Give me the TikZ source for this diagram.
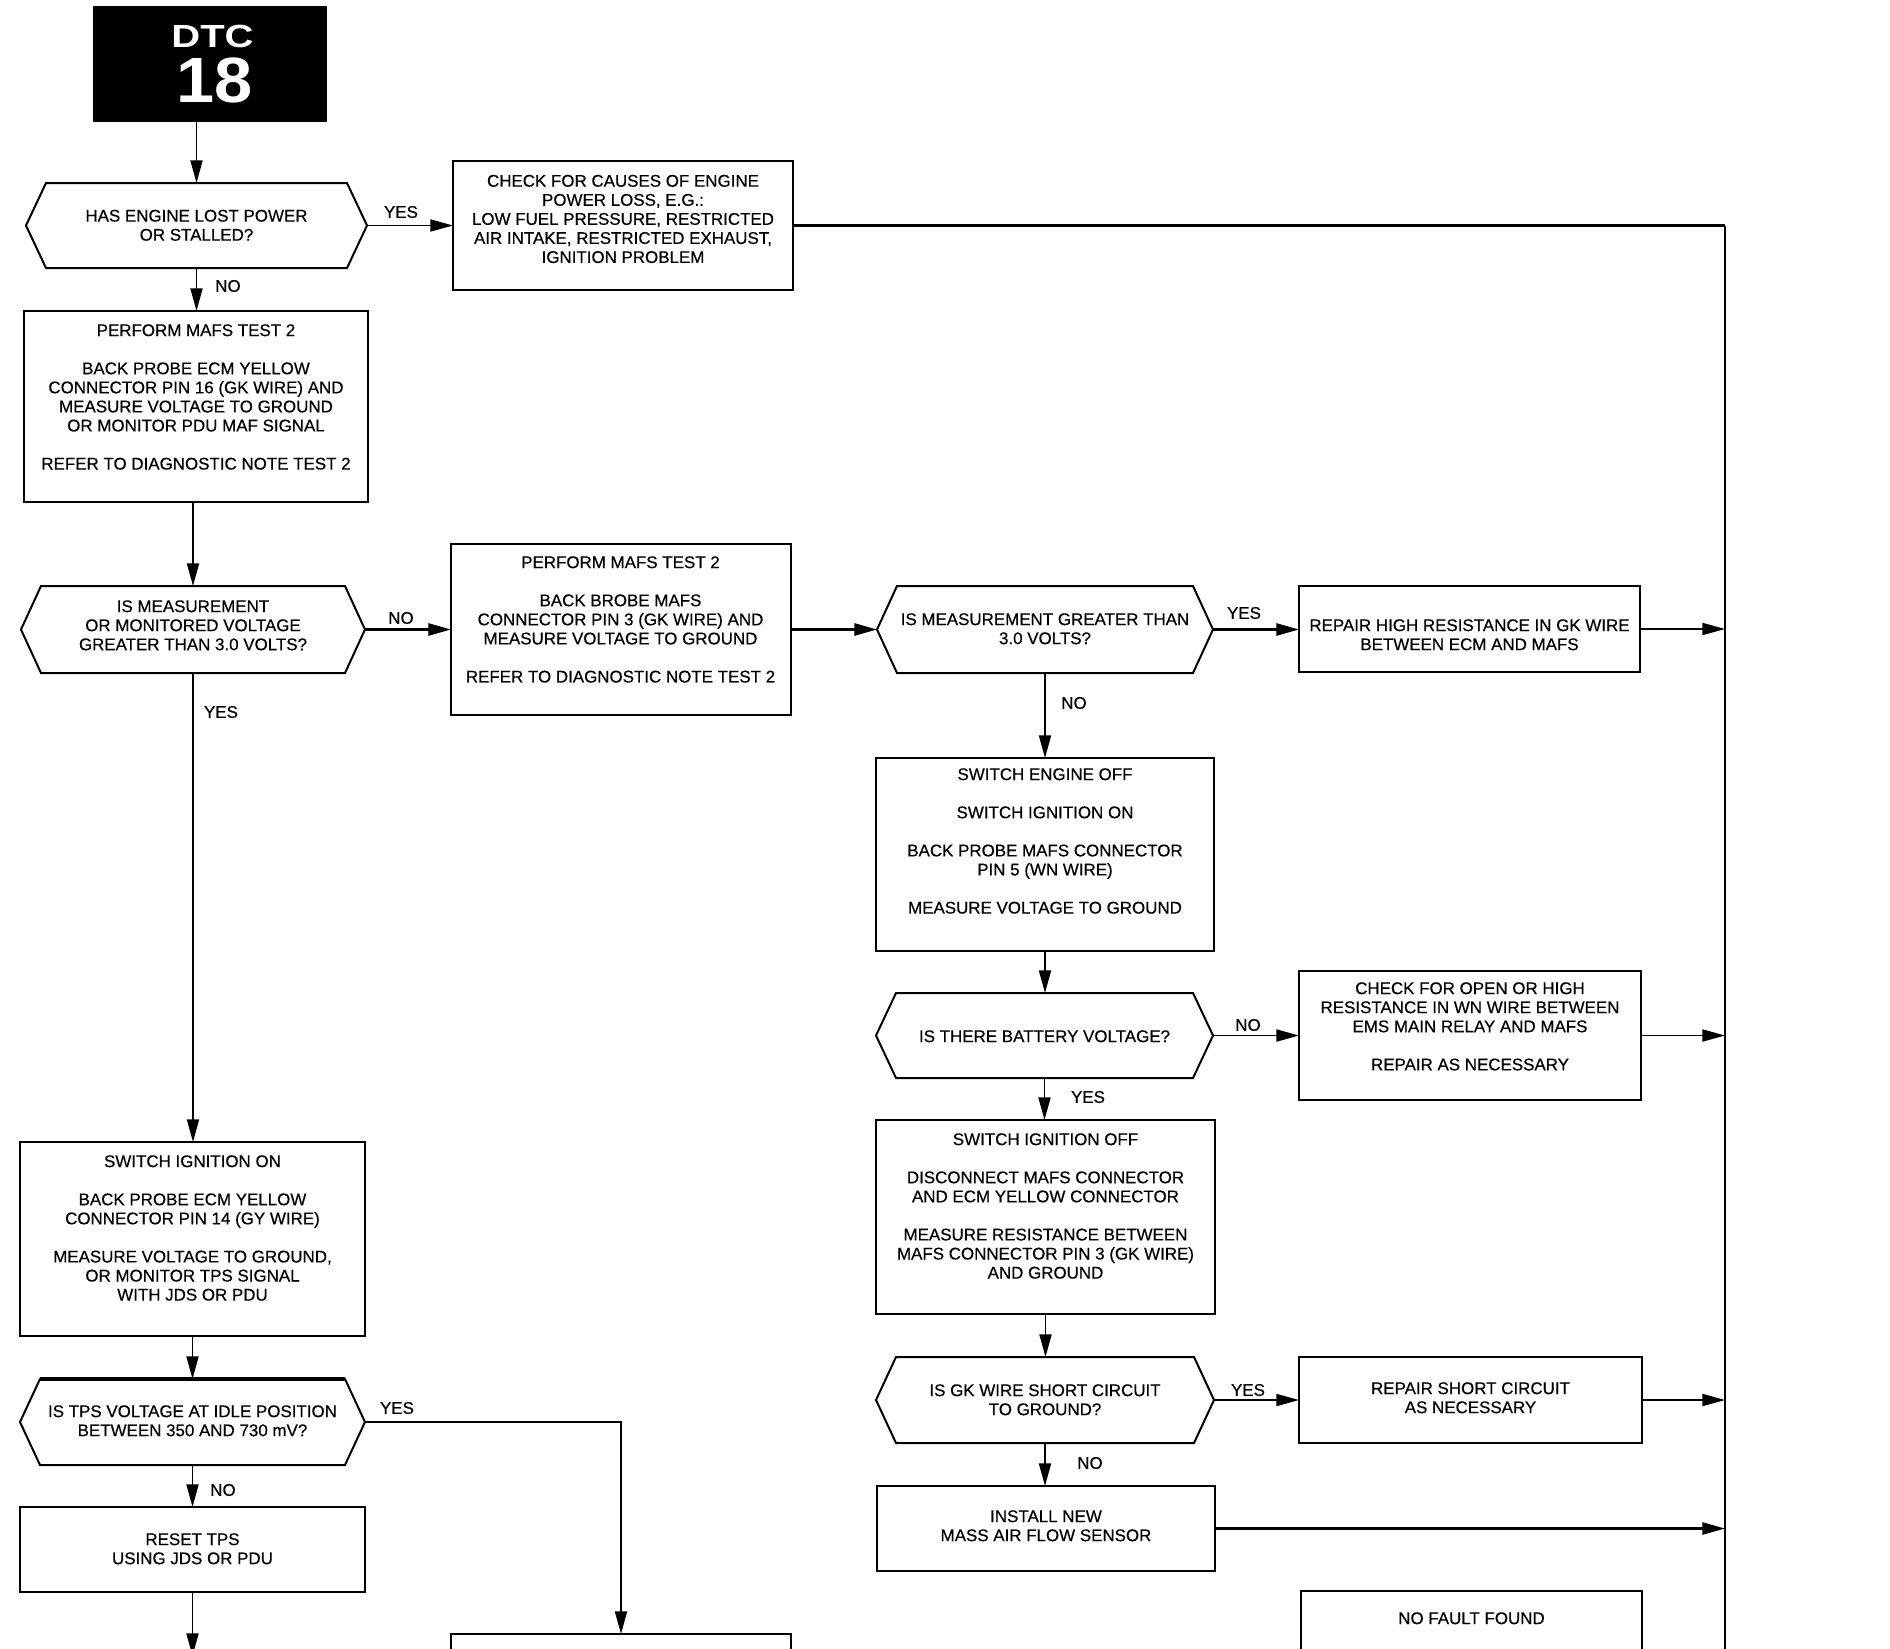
\documentclass[tikz,border=0pt]{standalone}
\usepackage{fontspec}
\setmainfont{Liberation Sans}
\newfontfamily\diagfont{Liberation Sans}[FakeBold=0.4]
\usetikzlibrary{arrows.meta,fit,calc}
\newcommand\mainfs{\diagfont\fontsize{12.7pt}{14.3pt}\selectfont}
\newcommand\hexdraw[1]{\draw[boxline] (#1.west) -- ([xshift=15pt]#1.north west) -- ([xshift=-15pt]#1.north east) -- (#1.east) -- ([xshift=-15pt]#1.south east) -- ([xshift=15pt]#1.south west) -- cycle;}
\begin{document}
\begin{tikzpicture}[x=0.75pt,y=-0.75pt,
  box/.style={draw, line width=1.5pt, inner sep=0pt, outer sep=0pt},
  hexbase/.style={inner sep=0pt, outer sep=0pt},
  boxline/.style={line width=1.5pt, line join=miter},
  txt/.style={font=\mainfs, align=center, inner sep=0pt, anchor=north},
  lbl/.style={font=\mainfs, inner sep=0pt},
  conn/.style={line width=1.4pt},
  arr/.style={conn, -{Triangle[length=17pt,width=9pt]}}]
\path[use as bounding box, fill=white] (0,0) rectangle (1890,1648);
\clip (0,0) rectangle (1890,1648);

% DTC header
\node[fill=black, inner sep=0pt, outer sep=0pt, fit={(93,6) (327,122)}] (dtc) {};
\node[text=white, inner sep=0pt, font=\bfseries\fontsize{24pt}{24pt}\selectfont] (dtct) at (212.5,36.5) {\scalebox{1.25}[1]{DTC}};
\node[text=white, inner sep=0pt, font=\bfseries\fontsize{48pt}{48pt}\selectfont] (dtcn) at (215,80) {\scalebox{1.07}[1]{18}};

% left column
\node[hexbase, fit={(26,183) (367,268)}] (h1) {}; \hexdraw{h1}
\node[txt] (th1) at (196.5,209.5) {HAS ENGINE LOST POWER\\OR STALLED?};

\node[box, fit={(453,161) (793,290)}] (b1) {};
\node[txt] (tb1) at (623,174.6) {CHECK FOR CAUSES OF ENGINE\\POWER LOSS, E.G.:\\LOW FUEL PRESSURE, RESTRICTED\\AIR INTAKE, RESTRICTED EXHAUST,\\IGNITION PROBLEM};

\node[box, fit={(24,311) (368,502)}] (b2) {};
\node[txt] (tb2) at (196,324) {PERFORM MAFS TEST 2\\[14.3pt]BACK PROBE ECM YELLOW\\CONNECTOR PIN 16 (GK WIRE) AND\\MEASURE VOLTAGE TO GROUND\\OR MONITOR PDU MAF SIGNAL\\[14.3pt]REFER TO DIAGNOSTIC NOTE TEST 2};

\node[hexbase, fit={(21,586) (365,673)}] (h2) {}; \hexdraw{h2}
\node[txt] (th2) at (193,600) {IS MEASUREMENT\\OR MONITORED VOLTAGE\\GREATER THAN 3.0 VOLTS?};

\node[box, fit={(451,544) (791,715)}] (b3) {};
\node[txt] (tb3) at (620.5,556) {PERFORM MAFS TEST 2\\[14.3pt]BACK BROBE MAFS\\CONNECTOR PIN 3 (GK WIRE) AND\\MEASURE VOLTAGE TO GROUND\\[14.3pt]REFER TO DIAGNOSTIC NOTE TEST 2};

\node[box, fit={(20,1142) (365,1336)}] (b11) {};
\node[txt] (tb11) at (192.5,1155) {SWITCH IGNITION ON\\[14.3pt]BACK PROBE ECM YELLOW\\CONNECTOR PIN 14 (GY WIRE)\\[14.3pt]MEASURE VOLTAGE TO GROUND,\\OR MONITOR TPS SIGNAL\\WITH JDS OR PDU};

\node[hexbase, fit={(20,1379) (365,1465)}] (h6) {}; \hexdraw{h6}
\draw[line width=2.6pt] ([xshift=15pt]h6.north west) -- ([xshift=-15pt]h6.north east);
\node[txt] (th6) at (192.5,1405) {IS TPS VOLTAGE AT IDLE POSITION\\BETWEEN 350 AND 730 mV?};

\node[box, fit={(20,1507) (365,1592)}] (b12) {};
\node[txt] (tb12) at (192.5,1533) {RESET TPS\\USING JDS OR PDU};

\node[box, fit={(451,1634) (791,1670)}] (b13) {};

% middle-right column
\node[hexbase, fit={(877,586) (1213,673)}] (h3) {}; \hexdraw{h3}
\node[txt] (th3) at (1045,613) {IS MEASUREMENT GREATER THAN\\3.0 VOLTS?};

\node[box, fit={(1299,586) (1640,672)}] (b4) {};
\node[txt] (tb4) at (1469.5,619) {REPAIR HIGH RESISTANCE IN GK WIRE\\BETWEEN ECM AND MAFS};

\node[box, fit={(876,758) (1214,951)}] (b5) {};
\node[txt] (tb5) at (1045,768) {SWITCH ENGINE OFF\\[14.3pt]SWITCH IGNITION ON\\[14.3pt]BACK PROBE MAFS CONNECTOR\\PIN 5 (WN WIRE)\\[14.3pt]MEASURE VOLTAGE TO GROUND};

\node[hexbase, fit={(876,993) (1213,1078)}] (h4) {}; \hexdraw{h4}
\node[txt] (th4) at (1044.5,1030) {IS THERE BATTERY VOLTAGE?};

\node[box, fit={(1299,971) (1641,1100)}] (b6) {};
\node[txt] (tb6) at (1470,982) {CHECK FOR OPEN OR HIGH\\RESISTANCE IN WN WIRE BETWEEN\\EMS MAIN RELAY AND MAFS\\[14.3pt]REPAIR AS NECESSARY};

\node[box, fit={(876,1120) (1215,1314)}] (b7) {};
\node[txt] (tb7) at (1045.5,1133) {SWITCH IGNITION OFF\\[14.3pt]DISCONNECT MAFS CONNECTOR\\AND ECM YELLOW CONNECTOR\\[14.3pt]MEASURE RESISTANCE BETWEEN\\MAFS CONNECTOR PIN 3 (GK WIRE)\\AND GROUND};

\node[hexbase, fit={(876,1357) (1214,1443)}] (h5) {}; \hexdraw{h5}
\node[txt] (th5) at (1045,1384) {IS GK WIRE SHORT CIRCUIT\\TO GROUND?};

\node[box, fit={(1299,1357) (1642,1443)}] (b8) {};
\node[txt] (tb8) at (1470.5,1382) {REPAIR SHORT CIRCUIT\\AS NECESSARY};

\node[box, fit={(877,1486) (1215,1571)}] (b9) {};
\node[txt] (tb9) at (1046,1510) {INSTALL NEW\\MASS AIR FLOW SENSOR};

\node[box, fit={(1301,1591) (1642,1670)}] (b10) {};
\node[txt] (tb10) at (1471.5,1612) {NO FAULT FOUND};

% connectors
\coordinate (rtop) at (1725,225.5);
\coordinate (rbot) at (1725,1670);
\coordinate (lend) at (192.5,1656);

\draw[arr] (dtc.south -| h1.north) -- (h1.north);
\draw[arr] (h1.east) -- (b1.west);
\draw[arr] (h1.south) -- (h1.south |- b2.north);
\draw[arr] (h2.north |- b2.south) -- (h2.north);
\draw[arr, line width=2pt] (h2.east) -- (h2.east -| b3.west);
\draw[arr] (h2.south) -- (h2.south |- b11.north);
\draw[arr] (b11.south) -- (b11.south |- h6.north);
\draw[arr] (h6.south) -- (h6.south |- b12.north);
\draw[arr] (b12.south) -- (lend);
\draw[arr] (h6.east) -| (b13.north);

\draw[arr, line width=2pt] (h3.west -| b3.east) -- (h3.west);
\draw[arr, line width=2pt] (h3.east) -- (h3.east -| b4.west);
\draw[arr] (h3.south) -- (h3.south |- b5.north);
\draw[arr] (b5.south) -- (b5.south |- h4.north);
\draw[arr] (h4.east) -- (h4.east -| b6.west);
\draw[arr] (h4.south) -- (h4.south |- b7.north);
\draw[arr] (b7.south) -- (b7.south |- h5.north);
\draw[arr] (h5.east) -- (h5.east -| b8.west);
\draw[arr] (h5.south) -- (h5.south |- b9.north);

\draw[line width=2.2pt] (b1.east) -- (rtop);
\draw[conn] (rtop) -- (rbot);
\draw[arr] (b4.east) -- (b4.east -| rtop);
\draw[arr] (b6.east) -- (b6.east -| rtop);
\draw[arr] (b8.east) -- (b8.east -| rtop);
\draw[arr, line width=1.8pt] (b9.east) -- (b9.east -| rtop);

% labels
\node[lbl] (ly1) at (401,212) {YES};
\node[lbl] (ln1) at (228,286) {NO};
\node[lbl] (ln2) at (401,618) {NO};
\node[lbl] (ly2) at (221,712) {YES};
\node[lbl] (ly3) at (1244,613) {YES};
\node[lbl] (ln3) at (1074,703) {NO};
\node[lbl] (ln4) at (1248,1025) {NO};
\node[lbl] (ly4) at (1088,1097) {YES};
\node[lbl] (ly5) at (1248,1390) {YES};
\node[lbl] (ln5) at (1090,1463) {NO};
\node[lbl] (ly6) at (397,1408) {YES};
\node[lbl] (ln6) at (223,1490) {NO};
\end{tikzpicture}
\end{document}
